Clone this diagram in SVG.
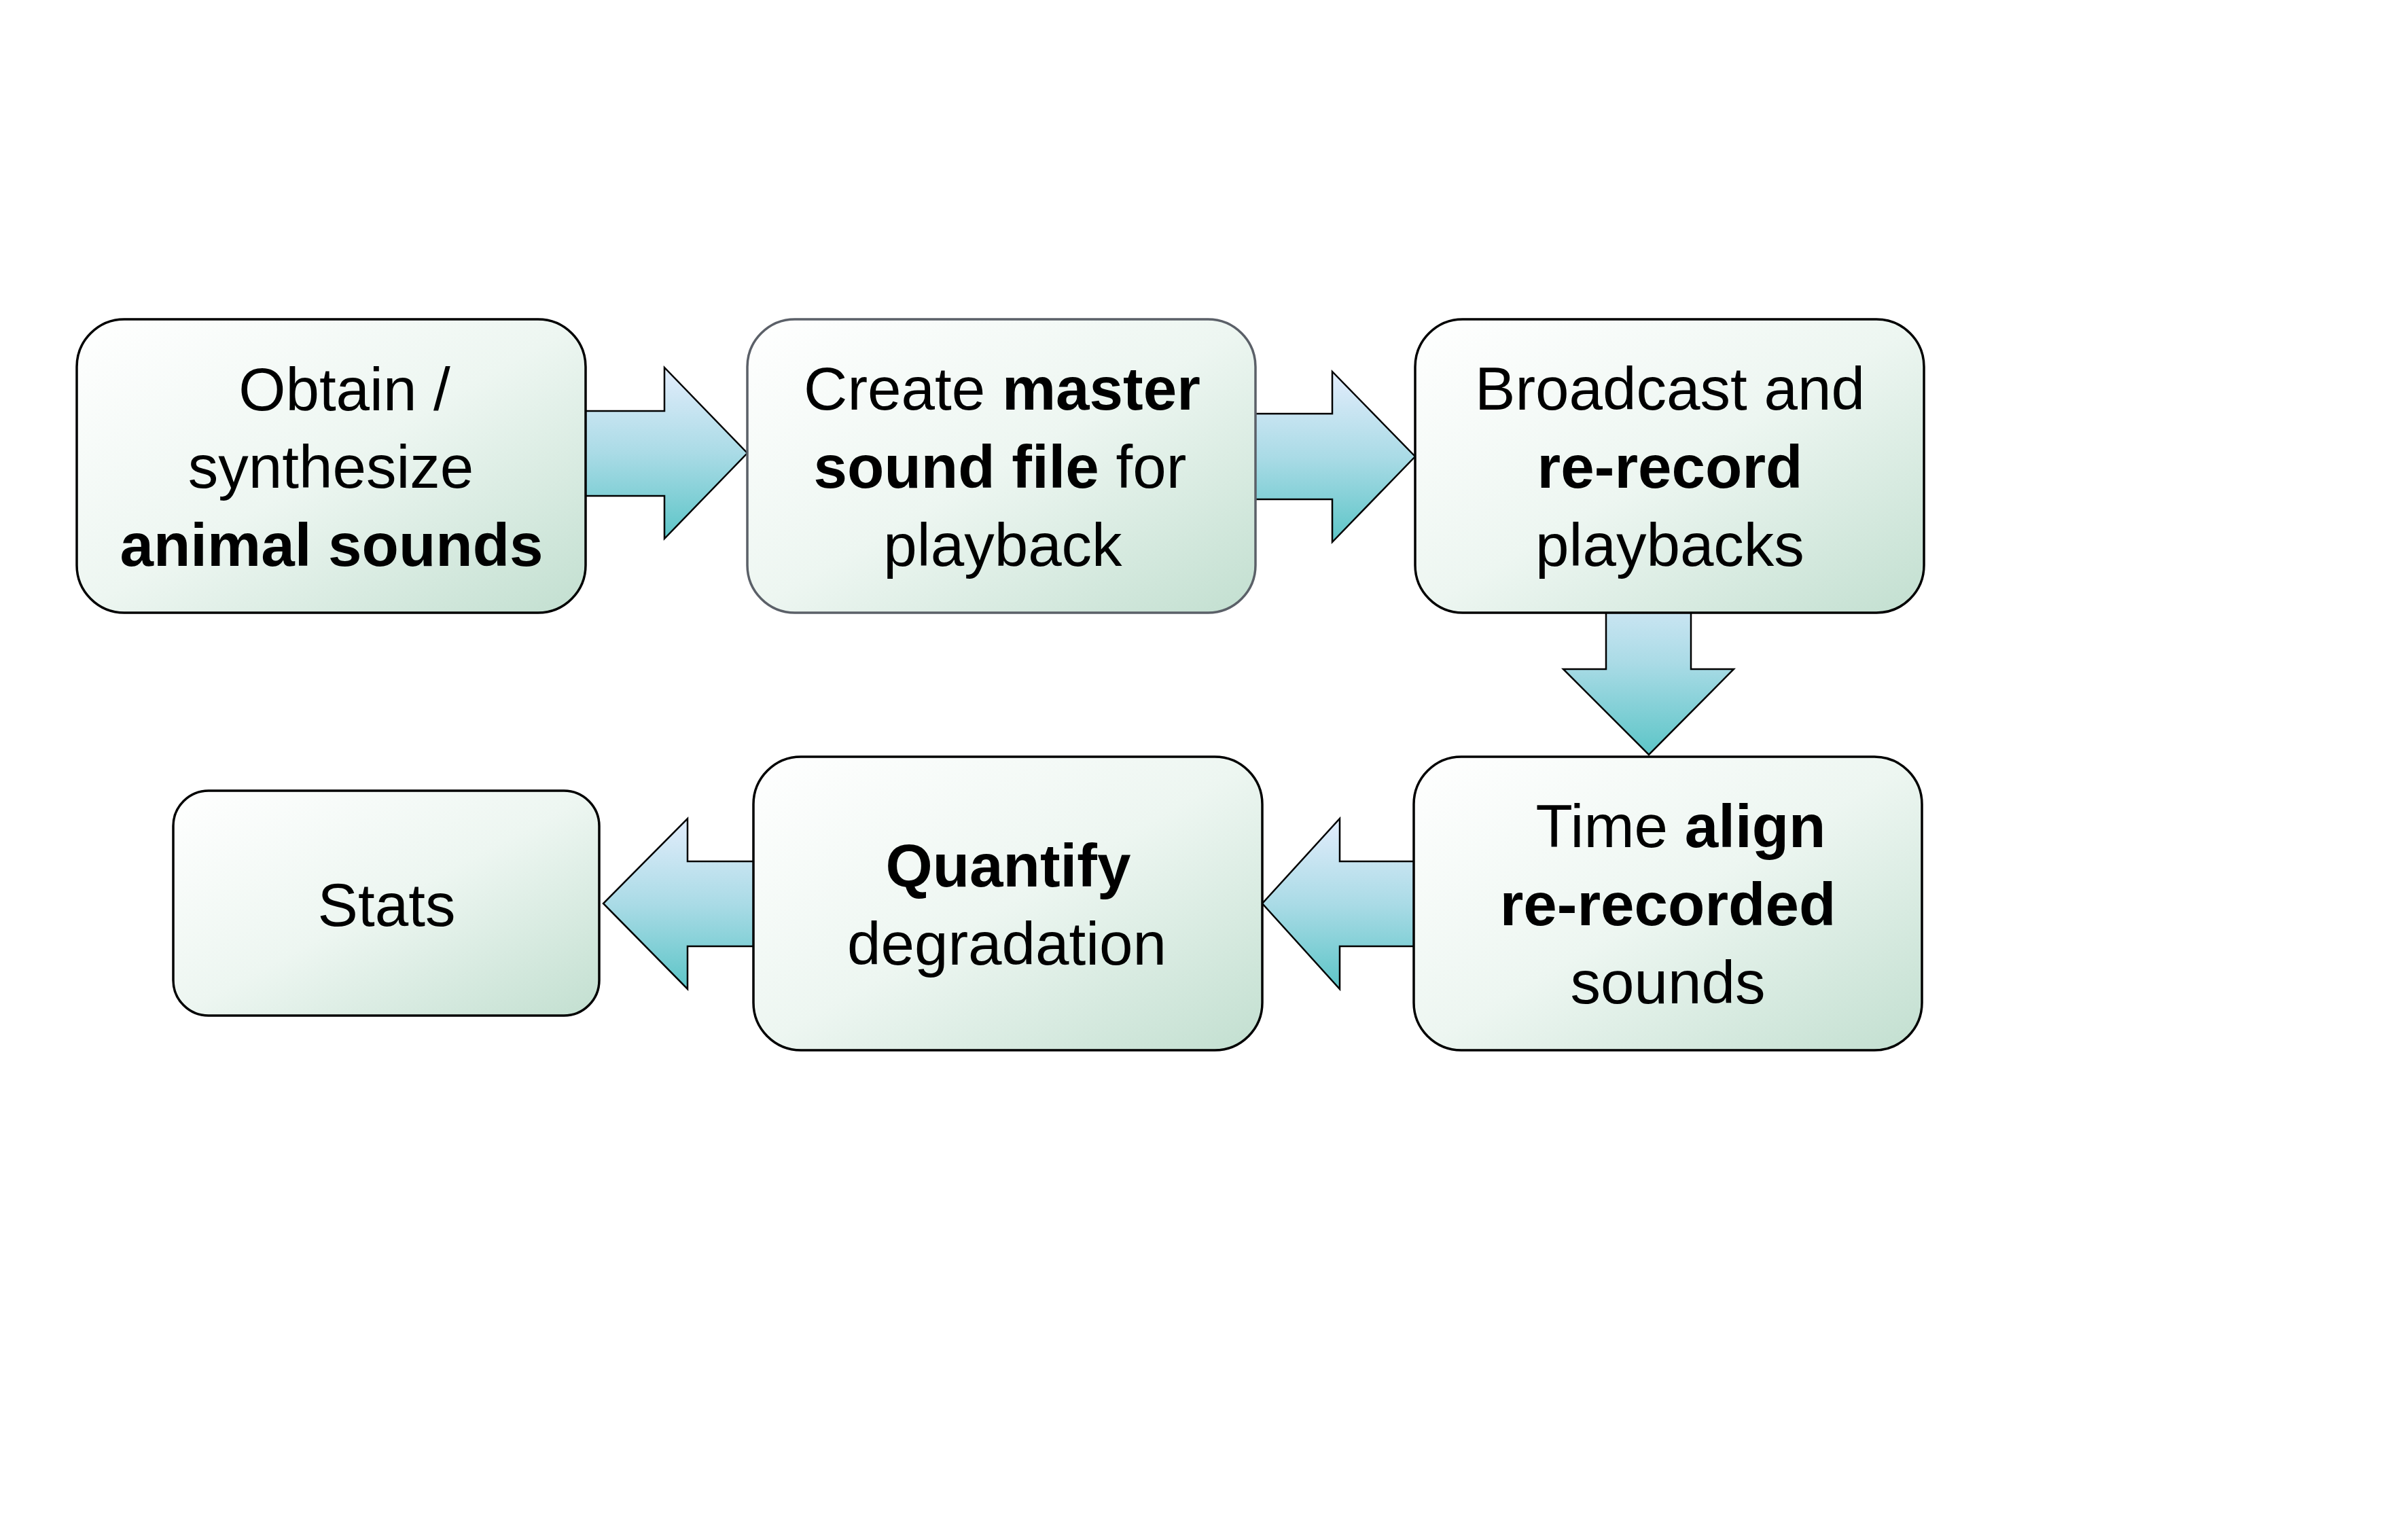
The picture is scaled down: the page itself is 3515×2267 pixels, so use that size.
<svg xmlns="http://www.w3.org/2000/svg" width="3515" height="2267" viewBox="0 0 3515 2267">
<defs>
<linearGradient id="boxFill" x1="0" y1="0" x2="1" y2="1">
<stop offset="0" stop-color="#ffffff"/>
<stop offset="0.5" stop-color="#edf6f1"/>
<stop offset="1" stop-color="#c2dfd0"/>
</linearGradient>
<linearGradient id="arrowFill" x1="0" y1="0" x2="0" y2="1">
<stop offset="0" stop-color="#e3edfc"/>
<stop offset="0.5" stop-color="#aadbe6"/>
<stop offset="1" stop-color="#5cc5c7"/>
</linearGradient>
</defs>
<style>
.box{fill:url(#boxFill);stroke:#000;stroke-width:3.5}
.box.gray{stroke:#5b6068}
.arrow{fill:url(#arrowFill);stroke:#000;stroke-width:2.5;stroke-linejoin:miter}
text{font-family:"Liberation Sans",Arial,sans-serif;font-size:89px;fill:#000;text-anchor:middle}
.b{font-weight:bold}
</style>
<rect width="3515" height="2267" fill="#ffffff"/>
<g id="connectors">
<path class="arrow" d="M 850 605 L 978 605 L 978 541 L 1100 667 L 978 793 L 978 730 L 850 730 Z"/>
<path class="arrow" d="M 1836 609 L 1961 609 L 1961 547 L 2083 672 L 1961 798 L 1961 735 L 1836 735 Z"/>
<path class="arrow" d="M 2364 840 L 2364 985 L 2301 985 L 2427 1111 L 2552 985 L 2489 985 L 2489 840 Z"/>
<path class="arrow" d="M 2095 1268 L 1972 1268 L 1972 1205 L 1858 1330 L 1972 1456 L 1972 1393 L 2095 1393 Z"/>
<path class="arrow" d="M 1122 1268 L 1012 1268 L 1012 1205 L 888 1330 L 1012 1456 L 1012 1393 L 1122 1393 Z"/>
</g>
<g id="node-obtain">
<rect class="box" x="113" y="470" width="749" height="432" rx="70" ry="70"/>
<text x="507" y="604">Obtain /</text>
<text x="487" y="718">synthesize</text>
<text x="488" y="833" class="b">animal sounds</text>
</g>
<g id="node-master">
<rect class="box gray" x="1100" y="470" width="748" height="432" rx="70" ry="70"/>
<text x="1475" y="603">Create <tspan class="b">master</tspan></text>
<text x="1472" y="718"><tspan class="b">sound file</tspan> for</text>
<text x="1476" y="833">playback</text>
</g>
<g id="node-broadcast">
<rect class="box" x="2083" y="470" width="749" height="432" rx="70" ry="70"/>
<text x="2458" y="603">Broadcast and</text>
<text x="2458" y="718" class="b">re-record</text>
<text x="2458" y="833">playbacks</text>
</g>
<g id="node-align">
<rect class="box" x="2081" y="1114" width="748" height="432" rx="70" ry="70"/>
<text x="2474" y="1247">Time <tspan class="b">align</tspan></text>
<text x="2455" y="1362" class="b">re-recorded</text>
<text x="2455" y="1477">sounds</text>
</g>
<g id="node-quantify">
<rect class="box" x="1109" y="1114" width="749" height="432" rx="70" ry="70"/>
<text x="1484" y="1305" class="b">Quantify</text>
<text x="1482" y="1420">degradation</text>
</g>
<g id="node-stats">
<rect class="box" x="255" y="1164" width="627" height="331" rx="52" ry="52"/>
<text x="569" y="1363">Stats</text>
</g>
</svg>
